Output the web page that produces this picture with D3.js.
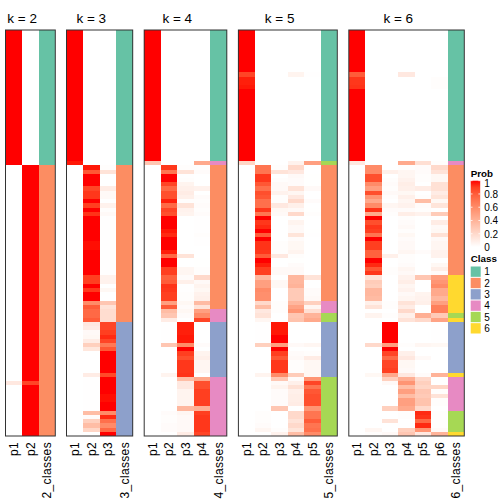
<!DOCTYPE html>
<html><head><meta charset="utf-8">
<script src="https://cdn.jsdelivr.net/npm/d3@7"></script>
<style>html,body{margin:0;padding:0;background:#fff}svg{display:block}text{font-family:"Liberation Sans",Arial,sans-serif;fill:#000}</style>
</head><body><div id="chart"></div>
<script>
const kValues=[2,3,4,5,6];
const classNames=["1","2","3","4","5","6"];
const classColors=["#66C2A5","#FC8D62","#8DA0CB","#E78AC3","#A6D854","#FFD92F"];
const probTicks=[1,.8,.6,.4,.2,0];

const k2Rows=[
[1,0],[1,0],[1,0],[1,0],[1,0],[1,0],[1,0],[1,0],[1,0],[1,0],[1,0],[1,0],[1,0],[1,0],[1,0],[1,0],
[1,0],[1,0],[1,0],[1,0],[1,0],[1,0],[1,0],[1,0],[1,0],[1,0],[1,0],[1,0],[1,0],[1,0],[1,0],[1,0],
[0,1],[0,1],[0,1],[0,1],[0,1],[0,1],[0,1],[0,1],[0,1],[0,1],[0,1],[0,1],[0,1],[0,1],[0,1],[0,1],
[0,1],[0,1],[0,1],[0,1],[0,1],[0,1],[0,1],[0,1],[0,1],[0,1],[0,1],[0,1],[0,1],[0,1],[0,1],[0,1],
[0,1],[0,1],[0,1],[0,1],[0,1],[0,1],[0,1],[0,1],[0,1],[0,1],[0,1],[0,1],[0,1],[0,1],[0,1],[0,1],[0,1],[0,1],[0,1],
[.12,.88],
[0,1],[0,1],[0,1],[0,1],[0,1],[0,1],[0,1],[0,1],[0,1],[0,1],[0,1],[0,1]];
const k2Classes=[1,1,1,1,1,1,1,1,1,1,1,1,1,1,1,1,1,1,1,1,1,1,1,1,1,1,1,1,1,1,1,1,
2,2,2,2,2,2,2,2,2,2,2,2,2,2,2,2,2,2,2,2,2,2,2,2,2,2,2,2,2,2,2,2,2,2,2,2,2,2,2,2,2,2,2,2,2,2,2,2,2,2,2,2,2,2,2,2,2,2,2,2,2,2,2,2];

const k3Rows=[
[1,0,0],[1,0,0],[1,0,0],[1,0,0],[1,0,0],[1,0,0],[1,0,0],[1,0,0],[1,0,0],[1,0,0],[1,0,0],
[1,0,0],[1,0,0],[1,0,0],[1,0,0],[1,0,0],[1,0,0],[1,0,0],[1,0,0],[1,0,0],[1,0,0],[1,0,0],
[1,0,0],[1,0,0],[1,0,0],[1,0,0],[1,0,0],[1,0,0],[1,0,0],[1,0,0],[1,0,0],[.98,0,0],
[0,.98,.01],[0,.82,.15],[0,1,0],[0,1,0],[0,1,0],[0,.88,.1],[0,.92,.03],[0,.92,.03],[0,1,0],
[0,.9,.07],[0,1,.01],[0,.93,.03],[0,1,.005],[0,1,.005],[0,1,.005],[0,1,.005],[0,1,.005],
[0,1,.005],[0,.99,.005],[0,.99,.005],[0,1,.005],[0,1,.005],[0,1,.005],[0,1,.005],[0,1,.005],[0,1,.005],
[0,.9,.07],[0,.9,.07],[0,1,0],[0,.92,.04],[0,1,0],[0,1,0],[0,.6,.3],[0,.8,.15],[0,.75,.18],[0,.75,.18],[0,.8,.18],
[0,.12,.88],[0,.1,.88],[0,.03,.9],[0,.04,.95],[0,.1,.88],[0,.25,.68],[0,.13,.82],
[0,0,1],[0,0,1],[0,0,1],[0,0,1],[0,0,1],[0,.1,.87],
[0,.005,1],[0,.005,1],[0,.005,1],[0,.005,1],[0,.005,.99],[0,.005,.99],[0,.005,1],[0,.005,1],
[0,.35,.6],[0,.02,.95],[0,.25,.72],[0,.35,.6],[0,.22,.75],[0,0,1]];
const k3Classes=[1,1,1,1,1,1,1,1,1,1,1,1,1,1,1,1,1,1,1,1,1,1,1,1,1,1,1,1,1,1,1,1,
2,2,2,2,2,2,2,2,2,2,2,2,2,2,2,2,2,2,2,2,2,2,2,2,2,2,2,2,2,2,2,2,2,2,2,2,2,
3,3,3,3,3,3,3,3,3,3,3,3,3,3,3,3,3,3,3,3,3,3,3,3,3,3,3];

const k4Rows=[
[1,0,0,0],[1,0,0,0],[1,0,0,0],[1,0,0,0],[1,0,0,0],[1,0,0,0],[1,0,0,0],[1,0,0,0],[1,0,0,0],[1,0,0,0],[1,0,0,0],
[1,0,0,0],[1,0,0,0],[1,0,0,0],[1,0,0,0],[1,0,0,0],[1,0,0,0],[1,0,0,0],[1,0,0,0],[1,0,0,0],[1,0,0,0],
[1,0,0,0],[1,0,0,0],[1,0,0,0],[1,0,0,0],[1,0,0,0],[1,0,0,0],[1,0,0,0],[1,0,0,0],[1,0,0,0],[1,0,0,0],
[.3,0,0,.45],
[0,.92,.01,.01],[0,.7,.15,.02],[0,1,.005,0],[0,1,.01,0],[0,.88,.06,0],[0,.75,.08,.07],[0,.85,.1,0],[0,.85,.08,.02],
[0,.97,.01,.01],[0,.75,.15,.02],[0,.88,.07,.01],[0,.85,.06,.02],
[0,1,0,.005],[0,1,0,.005],[0,1,0,.005],[0,.98,0,.005],[0,.95,0,.01],[0,1,0,.005],[0,1,0,.005],[0,1,0,0],[0,.97,.005,0],
[0,.75,.15,0],[0,1,0,.002],[0,1,0,.002],[0,.9,.05,.01],[0,.9,.05,.01],
[0,.78,.02,.2],[0,.8,.08,.03],[0,.93,.005,.06],[0,.92,.005,.04],[0,.9,.01,.07],[0,.9,.01,.08],
[0,.5,.04,.36],[0,.8,.02,.15],[0,.35,.04,.5],[0,.3,.02,.6],[0,.1,0,.88],
[0,.005,.97,0],[0,.005,.97,0],[0,.005,.97,0],[0,.005,.98,0],[0,.005,.98,0],
[0,.3,.6,.02],[0,0,1,0],[0,0,.9,.06],[0,0,.85,.08],[0,0,.92,.05],[0,0,.92,.05],[0,0,.92,.05],[0,.06,.93,0],
[0,0,.35,.45],[0,0,.12,.85],[0,0,.12,.85],[0,0,.06,.9],[0,0,.06,.9],[0,0,.06,.9],[0,0,.06,.9],[0,0,.38,.42],
[0,.02,.05,.9],[0,.01,.03,.92],[0,.01,.03,.92],[0,.02,.03,.92],[0,.02,.03,.92],[0,0,.1,.88]];
const k4Classes=[1,1,1,1,1,1,1,1,1,1,1,1,1,1,1,1,1,1,1,1,1,1,1,1,1,1,1,1,1,1,1,4,
2,2,2,2,2,2,2,2,2,2,2,2,2,2,2,2,2,2,2,2,2,2,2,2,2,2,2,2,2,2,2,2,2,2,4,4,4,
3,3,3,3,3,3,3,3,3,3,3,3,3,4,4,4,4,4,4,4,4,4,4,4,4,4,4];

const k5Rows=[
[1,0,0,0,0],[1,0,0,0,0],[1,0,0,0,0],[1,0,0,0,0],[1,0,0,0,0],[1,0,0,0,0],[1,0,0,0,0],[1,0,0,0,0],[1,0,0,0,0],[1,0,0,0,0],
[.88,0,0,.06,.005],[.97,0,0,0,0],[.97,0,0,0,0],[.98,0,0,0,0],[1,0,0,0,0],[1,0,0,0,0],[1,0,0,0,0],[1,0,0,0,0],[1,0,0,0,0],[1,0,0,0,0],
[1,0,0,0,0],[1,0,0,0,0],[1,0,0,0,0],[1,0,0,0,0],[1,0,0,0,0],[1,0,0,0,0],[1,0,0,0,0],[1,0,0,0,0],[1,0,0,0,0],[1,0,0,0,0],[1,0,0,0,0],
[.22,0,0,.07,.5],
[0,.7,.01,.2,0],[0,.7,.15,.12,0],[0,.92,0,.03,.002],[0,.92,.01,.02,.002],[0,.82,.03,.02,.002],[0,.72,.03,.15,.03],[0,.85,.07,.05,0],[0,.82,.01,.12,0],
[0,.72,.01,.2,.02],[0,.72,.12,.08,0],[0,.92,.04,.03,.002],[0,.7,.03,.2,.01],[0,1,0,.005,0],[0,.92,0,.06,0],[0,.95,0,.03,0],[0,1,0,.03,.002],
[0,.8,0,.14,.004],[0,1,0,.02,0],[0,.93,.01,.04,0],[0,.93,.01,.04,0],[0,.92,.01,.06,0],[0,.8,.12,.01,0],[0,1,0,.002,0],[0,.97,0,.02,0],
[0,.9,.03,.03,0],[0,.9,.03,.03,0],[0,.38,0,.38,.15],[0,.5,.04,.38,0],[0,.5,.04,.4,0],[0,.6,0,.28,.02],[0,.58,0,.28,.02],[0,.58,0,.28,.03],
[0,.2,.01,.38,.25],[0,.35,.01,.48,.05],[0,.12,.01,.55,.17],[0,.15,0,.3,.4],[0,.05,0,.32,.45],
[0,.005,.98,0,0],[0,.005,.98,0,0],[0,.005,.98,0,0],[0,.005,1,0,0],[0,.005,1,0,0],
[0,.25,.5,.03,.05],[0,0,1,0,0],[0,0,.9,.02,.01],[0,0,.82,.03,.1],[0,0,.92,.01,.04],[0,0,.92,.01,.04],[0,0,.92,.01,.04],[0,.06,.6,.27,.04],
[0,0,.3,.02,.55],[0,0,.03,.08,.88],[0,0,.06,.16,.7],[0,0,.02,.08,.82],[0,0,.02,.09,.85],[0,0,.02,.09,.85],[0,0,.02,.1,.85],[0,0,.3,0,.55],
[0,.01,0,.2,.7],[0,.01,0,.2,.7],[0,.01,0,.15,.8],[0,.02,0,.2,.7],[0,.05,.01,.14,.72],[0,0,.07,.35,.6]];
const k5Classes=[1,1,1,1,1,1,1,1,1,1,1,1,1,1,1,1,1,1,1,1,1,1,1,1,1,1,1,1,1,1,1,5,
2,2,2,2,2,2,2,2,2,2,2,2,2,2,2,2,2,2,2,2,2,2,2,2,2,2,2,2,2,2,2,2,4,4,4,5,5,
3,3,3,3,3,3,3,3,3,3,3,3,3,5,5,5,5,5,5,5,5,5,5,5,5,5,5];

const k6Rows=[
[1,0,0,0,0,0],[1,0,0,0,0,0],[1,0,0,0,0,0],[1,0,0,0,0,0],[1,0,0,0,0,0],[1,0,0,0,0,0],[1,0,0,0,0,0],[1,0,0,0,0,0],[1,0,0,0,0,0],[1,0,0,0,0,0],
[.8,0,0,.12,0,0],[.92,0,0,0,0,.01],[.92,0,0,0,0,.01],[.93,0,0,0,0,.01],[1,0,0,0,0,0],[1,0,0,0,0,0],[1,0,0,0,0,0],[1,0,0,0,0,0],[1,0,0,0,0,0],[1,0,0,0,0,0],
[1,0,0,0,0,0],[1,0,0,0,0,0],[1,0,0,0,0,0],[1,0,0,0,0,0],[1,0,0,0,0,0],[1,0,0,0,0,0],[1,0,0,0,0,0],[1,0,0,0,0,0],[1,0,0,0,0,0],[1,0,0,0,0,0],[1,0,0,0,0,0],
[.12,0,0,.45,.17,.01],
[0,.6,0,.01,.02,.2],[0,.6,.08,.05,.02,.15],[0,.85,0,.05,.01,.04],[0,.85,.01,.07,.01,.04],[0,.6,.02,.09,0,.16],[0,.5,.01,.08,.1,.16],[0,.85,.03,.04,0,.1],
[0,.55,.01,.08,.01,.14],[0,.45,0,.05,.35,.04],[0,.6,.05,.07,.02,.14],[0,.93,.02,.02,.01,0],[0,.45,.01,.09,.07,.27],[0,1,0,.01,0,0],[0,.85,0,.02,0,.1],
[0,.92,0,.03,0,.03],[0,.9,0,.01,0,.04],[0,.7,0,.04,0,.16],[0,1,0,.02,0,.03],[0,.9,0,.03,0,.05],[0,.9,0,.03,0,.05],[0,.78,0,.05,.02,.07],
[0,.78,.08,.01,0,.07],[0,1,0,.01,0,0],[0,.95,0,.02,0,.04],[0,.82,.01,.05,0,.09],[0,.92,.01,.03,0,.02],
[0,.15,0,.07,.3,.5],[0,.27,0,.09,0,.55],[0,.25,0,.05,0,.6],[0,.38,0,.07,0,.45],[0,.38,0,.03,.06,.45],[0,.36,0,.05,.07,.38],
[0,.08,.01,.15,.08,.5],[0,.15,.01,.1,0,.65],[0,0,0,.2,0,.65],[0,.06,.01,.08,.42,.28],[0,0,0,.15,.2,.48],
[0,0,1,0,0,.005],[0,0,1,0,0,.005],[0,0,1,0,0,.005],[0,0,1,0,0,.005],[0,0,1,0,0,.005],
[0,.2,.5,.01,.05,.04],[0,0,1,0,0,0],[0,0,.88,.08,0,0],[0,0,.75,.12,.03,0],[0,0,.88,.04,0,0],[0,0,.88,.04,0,0],[0,0,.9,.03,0,0],
[0,.04,.45,.12,.02,.4],[0,0,.25,.42,.2,0],[0,0,.03,.55,.25,0],[0,0,0,.35,.22,.22],[0,0,0,.5,.3,.01],[0,0,0,.35,.28,.15],[0,0,0,.5,.32,.01],[0,0,0,.5,.32,.01],[0,0,.25,.45,.2,0],
[0,0,0,.01,.95,.01],[0,0,0,.01,.93,.01],[0,0,.15,0,.75,.01],[0,0,0,0,.95,.01],[0,.05,0,.25,.55,.03],[0,.01,.03,.3,.12,.4]];
const k6Classes=[1,1,1,1,1,1,1,1,1,1,1,1,1,1,1,1,1,1,1,1,1,1,1,1,1,1,1,1,1,1,1,4,
2,2,2,2,2,2,2,2,2,2,2,2,2,2,2,2,2,2,2,2,2,2,2,2,2,2,6,6,6,6,6,6,6,6,6,5,6,
3,3,3,3,3,3,3,3,3,3,3,3,6,4,4,4,4,4,4,4,4,5,5,5,5,5,6];

const rowsByK=[k2Rows,k3Rows,k4Rows,k5Rows,k6Rows];
const classesByK=[k2Classes,k3Classes,k4Classes,k5Classes,k6Classes];
const panelLefts=[5.5,66.5,144.2,238.4,348.8];
const panelRights=[55.3,132.7,226.8,337.3,464.3];

const W=504,H=504,plotTop=30,plotBottom=436;
const svg=d3.select("#chart").append("svg").attr("width",W).attr("height",H);
const color=d3.scaleLinear().domain([0,1]).range(["#ffffff","#ff0000"]).interpolate(d3.interpolateLab);
const classColor=d3.scaleOrdinal().domain(classNames.map(Number)).range(classColors);

kValues.forEach((k,i)=>{
  const rows=rowsByK[i],classes=classesByK[i];
  const cols=d3.range(k).map(j=>"p"+(j+1)).concat([k+"_classes"]);
  const x=d3.scaleBand().domain(cols).range([panelLefts[i],panelRights[i]]);
  const y=d3.scaleBand().domain(d3.range(rows.length)).range([plotTop,plotBottom]);
  const g=svg.append("g");
  rows.forEach((row,r)=>{
    g.selectAll(null).data(row).join("rect")
      .attr("x",(d,j)=>x(cols[j])).attr("y",y(r))
      .attr("width",x.bandwidth()).attr("height",y.bandwidth())
      .attr("fill",d=>color(d)).attr("shape-rendering","crispEdges");
  });
  g.selectAll("rect.cls").data(classes).join("rect").attr("class","cls")
    .attr("x",x(k+"_classes")).attr("y",(d,r)=>y(r))
    .attr("width",x.bandwidth()).attr("height",y.bandwidth())
    .attr("fill",d=>classColor(d)).attr("shape-rendering","crispEdges");
  g.append("rect").attr("x",panelLefts[i]).attr("y",plotTop)
    .attr("width",panelRights[i]-panelLefts[i]).attr("height",plotBottom-plotTop)
    .attr("fill","none").attr("stroke","#333").attr("stroke-width",1);
  g.append("text").attr("x",(x(cols[0])+x(cols[k-1])+x.bandwidth())/2).attr("y",23)
    .attr("text-anchor","middle").attr("font-size",13.5).text("k = "+k);
  g.selectAll("text.lab").data(cols).join("text").attr("class","lab")
    .attr("transform",d=>`translate(${x(d)+x.bandwidth()/2+4.2},442) rotate(-90)`)
    .attr("text-anchor","end").attr("font-size",12).attr("letter-spacing",.35).attr("fill","#222").text(d=>d);
});

// Legend
const lx=470.7,barW=9.5;
const legend=svg.append("g");
legend.append("text").attr("x",lx).attr("y",176.5).attr("font-size",9.8).attr("font-weight","bold").text("Prob");
const yBar=d3.scaleLinear().domain([0,1]).range([247,180.7]);
const grad=svg.append("defs").append("linearGradient").attr("id","pg").attr("x1",0).attr("x2",0).attr("y1",1).attr("y2",0);
d3.range(0,1.01,.1).forEach(t=>grad.append("stop").attr("offset",t).attr("stop-color",color(t)));
legend.append("rect").attr("x",lx).attr("y",yBar(1)).attr("width",barW).attr("height",yBar(0)-yBar(1)).attr("fill","url(#pg)");
probTicks.forEach(t=>{
  [[lx,lx+1.8],[lx+barW-1.8,lx+barW]].forEach(s=>legend.append("line")
    .attr("x1",s[0]).attr("x2",s[1]).attr("y1",yBar(t)).attr("y2",yBar(t)).attr("stroke","#fff").attr("stroke-width",.8));
  const ly=t===1?yBar(t)+6.2:t===0?yBar(t)+3.5:yBar(t)+4;
  legend.append("text").attr("x",lx+13.5).attr("y",ly).attr("font-size",10).text(t);
});
legend.append("text").attr("x",lx).attr("y",261.5).attr("font-size",9.8).attr("font-weight","bold").text("Class");
const yCls=d3.scaleBand().domain(classNames).range([266,334]);
legend.selectAll("rect.sw").data(classNames).join("rect").attr("class","sw")
  .attr("x",lx).attr("y",d=>yCls(d)+.5).attr("width",barW+.5).attr("height",yCls.bandwidth()-1)
  .attr("fill",d=>classColor(+d));
legend.selectAll("text.sw").data(classNames).join("text").attr("class","sw")
  .attr("x",lx+13.5).attr("y",d=>yCls(d)+yCls.bandwidth()/2+3.6).attr("font-size",10).text(d=>d);
</script></body></html>
